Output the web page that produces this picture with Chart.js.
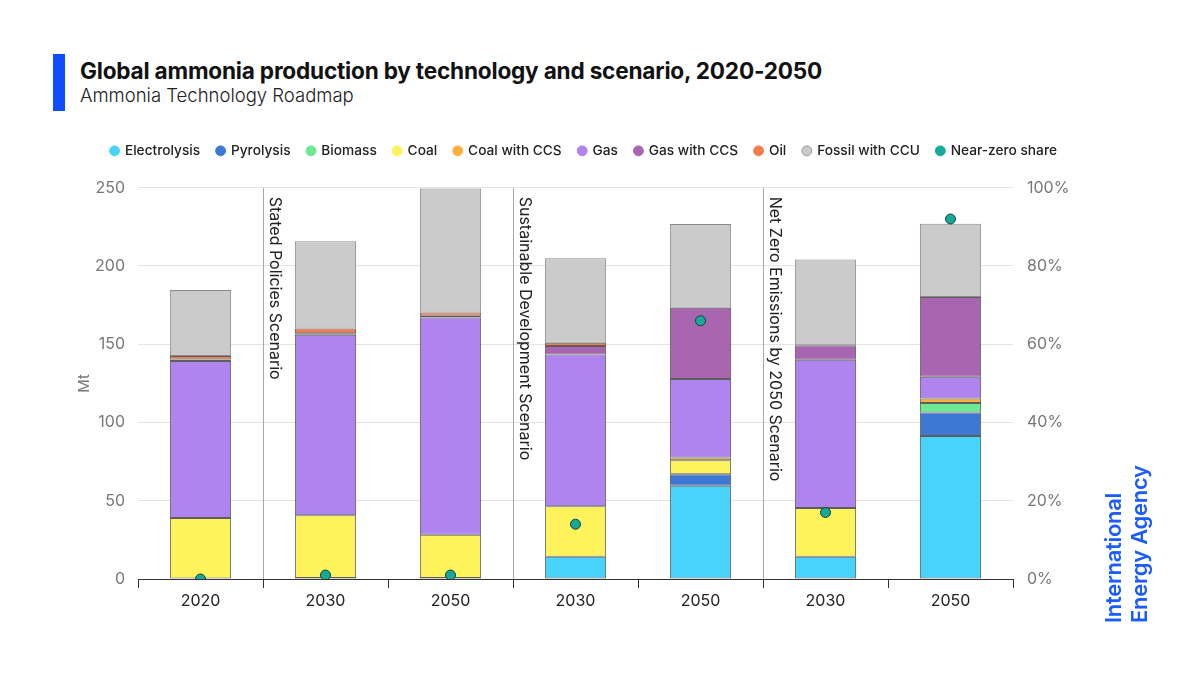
<!DOCTYPE html>
<html>
<head>
<meta charset="utf-8">
<script src="https://cdn.jsdelivr.net/npm/chart.js@4.4.1/dist/chart.umd.min.js"></script>
<style>
    html, body { margin: 0; padding: 0; background: #fff; }
    body { width: 1200px; height: 675px; position: relative; overflow: hidden; font-family: Inter, "Noto Sans", sans-serif; }
    #barra { position: absolute; left: 53px; top: 54px; width: 12px; height: 57px; background: #0f4dff; }
    #titulo { position: absolute; left: 80px; top: 57px; font-size: 22.6px; font-weight: 700; color: #111; letter-spacing: -0.2px; }
    #subtitulo { position: absolute; left: 80px; top: 84px; font-size: 18.5px; font-weight: 300; color: #222; }
    #logo { position: absolute; left: 1100px; top: 623px; width: 170px; line-height: 26px; font-size: 22px; font-weight: 600;
            color: #1a5cff; transform: rotate(-90deg); transform-origin: left top; white-space: nowrap; letter-spacing: -0.3px; }
    #contenedor { position: absolute; left: 0; top: 0; width: 1200px; height: 675px; }
</style>
</head>
<body>
<div id="barra"></div>
<div id="titulo">Global ammonia production by technology and scenario, 2020-2050</div>
<div id="subtitulo">Ammonia Technology Roadmap</div>
<div id="contenedor"><canvas id="graficoAmoniaco"></canvas></div>
<div id="logo">International<br>Energy Agency</div>

<script>
// Categorias (anio) y escenarios
const years = ['2020', '2030', '2050', '2030', '2050', '2030', '2050'];
const scenarios = ['Stated Policies Scenario', 'Sustainable Development Scenario', 'Net Zero Emissions by 2050 Scenario'];
const scenarioStart = [1, 3, 5]; // indice de la primera barra de cada escenario

// Produccion por tecnologia (Mt)
const electrolysis = [0, 0.6, 0.6, 14.2, 59.5, 14.2, 91.4];
const pyrolysis    = [0, 0, 0, 0, 7.5, 0, 15];
const biomass      = [0, 0, 0, 0, 0, 0, 6];
const coal         = [39, 40.2, 27.7, 32.3, 8.9, 31.1, 0];
const coalCCS      = [0, 0, 0, 0, 1.7, 0, 3];
const gas          = [100.2, 115.2, 138.7, 97, 50.1, 94.8, 13.8];
const gasCCS       = [1, 1, 1.2, 5.3, 45.6, 9.3, 51];
const oil          = [2.2, 3, 2, 2.2, 0, 0, 0];
const fossilCCU    = [42.3, 55.8, 79.3, 54, 53.5, 54.7, 46.8];

// Cuota near-zero (%)
const nearZeroShare = [0, 1, 1, 14, 66, 17, 92];

// Ticks
const mtTicks = [0, 50, 100, 150, 200, 250];
const pctTicks = [0, 20, 40, 60, 80, 100];

document.addEventListener('DOMContentLoaded', function () {
    dibujar_grafico();
});

// Espacio extra debajo de la leyenda y leyenda algo corrida a la izquierda
const leyendaPlugin = {
    id: 'leyendaAlta',
    beforeInit: function (chart) {
        const fitOriginal = chart.legend.fit;
        chart.legend.fit = function () {
            fitOriginal.bind(chart.legend)();
            this.height += 20;
        };
    },
    afterLayout: function (chart) {
        chart.legend.left -= 16;
        chart.legend.right -= 16;
    }
};

// Lineas verticales, etiquetas de escenario y titulo "Mt"
const separadoresPlugin = {
    id: 'separadores',
    afterDatasetsDraw: function (chart) {
        const ctx = chart.ctx;
        const x = chart.scales.x;
        const area = chart.chartArea;
        ctx.save();
        scenarioStart.forEach(function (idx, i) {
            const px = Math.round((x.getPixelForValue(idx - 1) + x.getPixelForValue(idx)) / 2) + 0.5;
            ctx.strokeStyle = '#a8a8a8';
            ctx.lineWidth = 1;
            ctx.beginPath();
            ctx.moveTo(px, area.top);
            ctx.lineTo(px, area.bottom);
            ctx.stroke();

            ctx.save();
            ctx.translate(px + 3, area.top + 9);
            ctx.rotate(Math.PI / 2);
            ctx.fillStyle = '#222';
            ctx.font = '16px Inter, "Noto Sans", sans-serif';
            ctx.textAlign = 'left';
            ctx.textBaseline = 'bottom';
            ctx.fillText(scenarios[i], 0, 0);
            ctx.restore();
        });

        ctx.save();
        ctx.translate(84, (area.top + area.bottom) / 2);
        ctx.rotate(-Math.PI / 2);
        ctx.fillStyle = '#777';
        ctx.font = '15px Inter, "Noto Sans", sans-serif';
        ctx.textAlign = 'center';
        ctx.textBaseline = 'middle';
        ctx.fillText('Mt', 0, 0);
        ctx.restore();
        ctx.restore();
    }
};

function serie(label, data, color, borde) {
    return {
        type: 'bar',
        label: label,
        data: data,
        backgroundColor: color,
        borderColor: borde || 'rgba(40, 40, 40, 0.75)',
        borderWidth: function (c) { return c.raw ? 1 : 0; },
        borderSkipped: false,
        yAxisID: 'y',
        stack: 'total',
        order: 2
    };
}

function dibujar_grafico() {
    const ctx = document.getElementById('graficoAmoniaco').getContext('2d');

    new Chart(ctx, {
        data: {
            labels: years,
            datasets: [
                serie('Electrolysis', electrolysis, '#48d3fd'),
                serie('Pyrolysis', pyrolysis, '#3e78d5'),
                serie('Biomass', biomass, '#6ce993'),
                serie('Coal', coal, '#fff35b'),
                serie('Coal with CCS', coalCCS, '#fbb13c'),
                serie('Gas', gas, '#b084ee'),
                serie('Gas with CCS', gasCCS, '#a966b0'),
                serie('Oil', oil, '#f87b4e'),
                serie('Fossil with CCU', fossilCCU, '#cbcbcb', '#8a8a8a'),
                {
                    type: 'line',
                    label: 'Near-zero share',
                    data: nearZeroShare,
                    yAxisID: 'y1',
                    showLine: false,
                    pointRadius: 5,
                    pointHoverRadius: 5,
                    pointBackgroundColor: '#16a99a',
                    pointBorderColor: '#1d3b35',
                    pointBorderWidth: 1,
                    backgroundColor: '#16a99a',
                    borderColor: '#16a99a',
                    order: 1
                }
            ]
        },
        options: {
            responsive: true,
            maintainAspectRatio: false,
            animation: false,
            layout: { padding: { top: 127, left: 0, right: 0, bottom: 0 } },
            datasets: { bar: { categoryPercentage: 1, barPercentage: 0.49 } },
            scales: {
                x: {
                    stacked: true,
                    grid: { display: true, drawOnChartArea: false, drawTicks: true, tickLength: 9, color: '#333', offset: true },
                    border: { display: true, color: '#333' },
                    ticks: { color: '#222', font: { size: 16, family: 'Inter' }, padding: 4 },
                    afterFit: function (scale) { scale.height = 96; }
                },
                y: {
                    stacked: true,
                    min: 0,
                    max: 250,
                    afterBuildTicks: function (scale) { scale.ticks = mtTicks.map(function (v) { return { value: v }; }); },
                    grid: { color: '#e4e4e4', drawTicks: false },
                    border: { display: false },
                    ticks: { color: '#777', font: { size: 16, family: 'Inter' }, padding: 13 },
                    afterFit: function (scale) { scale.width = 138; }
                },
                y1: {
                    position: 'right',
                    min: 0,
                    max: 100,
                    afterBuildTicks: function (scale) { scale.ticks = pctTicks.map(function (v) { return { value: v }; }); },
                    grid: { drawOnChartArea: false, drawTicks: false },
                    border: { display: false },
                    ticks: {
                        color: '#777',
                        font: { size: 16, family: 'Inter' },
                        padding: 14,
                        callback: function (value) { return value + '%'; }
                    },
                    afterFit: function (scale) { scale.width = 187; }
                }
            },
            plugins: {
                legend: {
                    position: 'top',
                    labels: {
                        usePointStyle: true,
                        pointStyle: 'circle',
                        boxWidth: 7,
                        boxHeight: 7,
                        padding: 17,
                        color: '#222',
                        font: { size: 13.7, weight: 500, family: 'Inter' },
                        generateLabels: function (chart) {
                            // el punto de la leyenda sin borde oscuro
                            return chart.data.datasets.map(function (ds, i) {
                                const fill = ds.type === 'line' ? ds.pointBackgroundColor : ds.backgroundColor;
                                return {
                                    text: ds.label,
                                    fillStyle: fill,
                                    strokeStyle: ds.label === 'Fossil with CCU' ? '#999' : fill,
                                    lineWidth: 1,
                                    pointStyle: 'circle',
                                    hidden: false,
                                    datasetIndex: i,
                                    fontColor: '#222'
                                };
                            });
                        }
                    }
                },
                tooltip: { enabled: false }
            }
        },
        plugins: [separadoresPlugin, leyendaPlugin]
    });
}
</script>
</body>
</html>
